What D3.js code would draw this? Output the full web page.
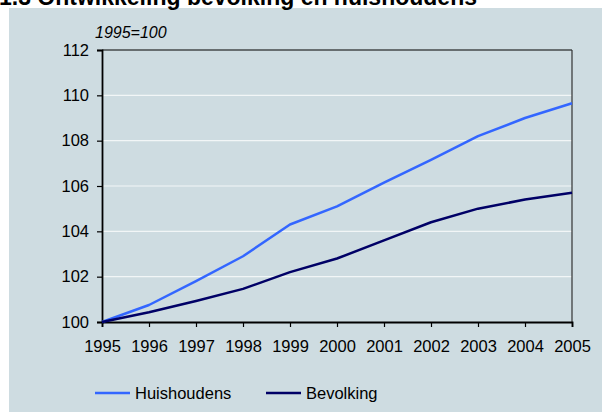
<!DOCTYPE html>
<html lang="nl">
<head>
<meta charset="utf-8">
<script src="https://d3js.org/d3.v7.min.js"></script>
<style>
  body { margin: 0; background: #fff; }
  svg text { font-family: "Liberation Sans", Arial, sans-serif; fill: #000; }
</style>
</head>
<body>
<script>
    // data (index, 1995=100)
    var years = [1995, 1996, 1997, 1998, 1999, 2000, 2001, 2002, 2003, 2004, 2005];
    var huishoudens = [100, 100.75, 101.8, 102.9, 104.3, 105.1, 106.15, 107.15, 108.2, 109.0, 109.65];
    var bevolking = [100, 100.43, 100.93, 101.46, 102.2, 102.8, 103.6, 104.4, 105.0, 105.4, 105.7];
    var yTicks = [100, 102, 104, 106, 108, 110, 112];
    var seriesNames = ['Huishoudens', 'Bevolking'];
    var seriesColors = ['#3366ff', '#000066'];

    var width = 602, height = 412;
    var margin = {left: 102, top: 50, right: 30, bottom: 90};

    var svg = d3.select('body').append('svg').attr('width', width).attr('height', height);

    // panel background
    svg.append('rect').attr('x', 9).attr('y', 8).attr('width', width - 9).attr('height', height - 8)
        .attr('fill', '#cedce1');

    // title (cut off at the top, as in the original)
    svg.append('text').attr('x', -1).attr('y', 5)
        .style('font-size', '23px').style('font-weight', 'bold')
        .text('1.3 Ontwikkeling bevolking en huishoudens');

    var x = d3.scaleLinear().domain([1995, 2005]).range([margin.left, width - margin.right]);
    var y = d3.scaleLinear().domain([100, 112]).range([height - margin.bottom, margin.top]);

    // gridlines
    svg.append('g').selectAll('line').data(yTicks.slice(1, -1)).join('line')
        .attr('x1', x(1995)).attr('x2', x(2005))
        .attr('y1', function(d) { return y(d); }).attr('y2', function(d) { return y(d); })
        .attr('stroke', '#f2f6f7').attr('stroke-width', 1.2);

    // top and right frame
    svg.append('line').attr('x1', x(1995)).attr('x2', x(2005)).attr('y1', y(112)).attr('y2', y(112))
        .attr('stroke', '#000').attr('stroke-width', 1.2);
    svg.append('line').attr('x1', x(2005)).attr('x2', x(2005)).attr('y1', y(112)).attr('y2', y(100))
        .attr('stroke', '#333').attr('stroke-width', 1.2);

    // axes
    var yAxis = svg.append('g').attr('transform', 'translate(' + x(1995) + ',0)')
        .call(d3.axisLeft(y).tickValues(yTicks).tickSize(5).tickPadding(8).tickFormat(d3.format('d')));
    var xAxis = svg.append('g').attr('transform', 'translate(0,' + y(100) + ')')
        .call(d3.axisBottom(x).tickValues(years).tickSize(5).tickPadding(13).tickFormat(d3.format('d')));
    [yAxis, xAxis].forEach(function(a) {
        a.select('.domain').attr('stroke', '#000').attr('stroke-width', 1.8);
        a.selectAll('.tick line').attr('stroke', '#000').attr('stroke-width', 1.2);
        a.selectAll('.tick text').style('font-size', '16.5px').attr('fill', '#000');
    });

    svg.append('text').attr('x', 95).attr('y', 38)
        .style('font-size', '16px').style('font-style', 'italic')
        .text('1995=100');

    // lines
    var line = d3.line()
        .x(function(d, i) { return x(years[i]); })
        .y(function(d) { return y(d); });

    var seriesData = [huishoudens, bevolking];
    svg.append('g').selectAll('path').data(seriesData).join('path')
        .attr('d', line)
        .attr('fill', 'none')
        .attr('stroke', function(d, i) { return seriesColors[i]; })
        .attr('stroke-width', 2.5)
        .attr('stroke-linejoin', 'round');

    // legend
    var legendX = [95, 266];
    var lg = svg.append('g').selectAll('g').data(seriesNames).join('g')
        .attr('transform', function(d, i) { return 'translate(' + legendX[i] + ',393)'; });
    lg.append('line').attr('x1', 0).attr('x2', 35).attr('y1', 0).attr('y2', 0)
        .attr('stroke', function(d, i) { return seriesColors[i]; }).attr('stroke-width', 2.5);
    lg.append('text').attr('x', 40).attr('y', 6).style('font-size', '16.5px')
        .text(function(d) { return d; });
</script>
</body>
</html>
